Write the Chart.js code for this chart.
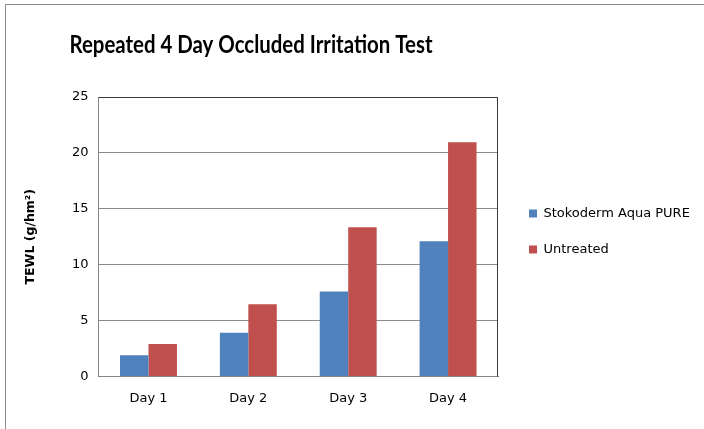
<!DOCTYPE html>
<html>
<head>
<meta charset="utf-8">
<script src="https://cdn.jsdelivr.net/npm/chart.js@4"></script>
<style>
body { margin: 0; background: #fff; }
.wrap { position: relative; width: 704px; height: 429px; overflow: hidden; }
.marco { position: absolute; left: 5px; top: 4px; width: 720px; height: 450px; border: 1px solid #8c8c8c; pointer-events: none; }
canvas { position: absolute; left: 0; top: 0; }
</style>
</head>
<body>
<div class="wrap">
  <canvas class="grafico" width="704" height="429"></canvas>
  <div class="marco"></div>
</div>
<script>
const dias = ['Day 1', 'Day 2', 'Day 3', 'Day 4'];
const stokoderm = [1.9, 3.9, 7.6, 12.1];
const untreated = [2.9, 6.45, 13.35, 20.95];
const yTicks = [0, 5, 10, 15, 20, 25];

const canvas = document.querySelector('.grafico');

// titulo a mano, alineado como en el original
const tituloPlugin = {
    id: 'titulo',
    afterDraw(chart) {
        const ctx = chart.ctx;
        ctx.save();
        ctx.font = 'bold 24px Lato';
        ctx.fillStyle = '#000';
        ctx.textBaseline = 'middle';
        ctx.textAlign = 'center';
        ctx.fillText('Repeated 4 Day Occluded Irritation Test', 251, 45, 363);
        ctx.restore();
    }
};

// mover la leyenda un poco a la derecha y arriba
const leyendaPlugin = {
    id: 'leyendaPos',
    afterLayout(chart) {
        const lg = chart.legend;
        lg.left = chart.chartArea.right + 8;
        lg.right = chart.width;
        lg.width = lg.right - lg.left;
        const mid = (lg.top + lg.bottom) / 2;
        const dy = 231.5 - mid;
        lg.top += dy;
        lg.bottom += dy;
    }
};

// borde del area del grafico
const bordePlugin = {
    id: 'borde',
    afterDraw(chart) {
        const a = chart.chartArea;
        const ctx = chart.ctx;
        ctx.save();
        ctx.strokeStyle = '#3a3a3a';
        ctx.lineWidth = 1;
        ctx.beginPath();
        ctx.moveTo(a.left, a.top + 0.5);
        ctx.lineTo(a.right - 0.5, a.top + 0.5);
        ctx.lineTo(a.right - 0.5, a.bottom);
        ctx.stroke();
        ctx.restore();
    }
};

const config = {
    type: 'bar',
    data: {
        labels: dias,
        datasets: [{
            label: 'Stokoderm Aqua PURE',
            data: stokoderm,
            backgroundColor: '#4f81bd',
            categoryPercentage: 0.57,
            barPercentage: 1
        }, {
            label: 'Untreated',
            data: untreated,
            backgroundColor: '#c0504d',
            categoryPercentage: 0.57,
            barPercentage: 1
        }]
    },
    options: {
        responsive: false,
        animation: false,
        layout: { padding: { left: 0, top: 97, right: 40, bottom: 9 } },
        plugins: {
            legend: {
                position: 'right',
                labels: {
                    boxWidth: 8,
                    boxHeight: 8,
                    padding: 23,
                    color: '#000',
                    font: { family: 'DejaVu Sans', size: 13 }
                }
            },
            title: { display: false },
            tooltip: { enabled: false }
        },
        scales: {
            x: {
                grid: { display: false, drawTicks: false },
                border: { color: '#868686' },
                ticks: { color: '#000', padding: 14, font: { family: 'DejaVu Sans', size: 13 } }
            },
            y: {
                min: 0,
                max: 25,
                afterBuildTicks: (axis) => { axis.ticks = yTicks.map(v => ({ value: v })); },
                grid: { color: '#8c8c8c', drawTicks: false },
                border: { color: '#868686' },
                ticks: { color: '#000', padding: 10, font: { family: 'DejaVu Sans', size: 13 } },
                title: {
                    display: true,
                    text: 'TEWL (g/hm²)',
                    color: '#000',
                    font: { family: 'DejaVu Sans', size: 12.5, weight: 'bold' },
                    padding: { top: 23, bottom: 24 }
                }
            }
        }
    },
    plugins: [tituloPlugin, leyendaPlugin, bordePlugin]
};

const myChart = new Chart(canvas, config);
</script>
</body>
</html>
